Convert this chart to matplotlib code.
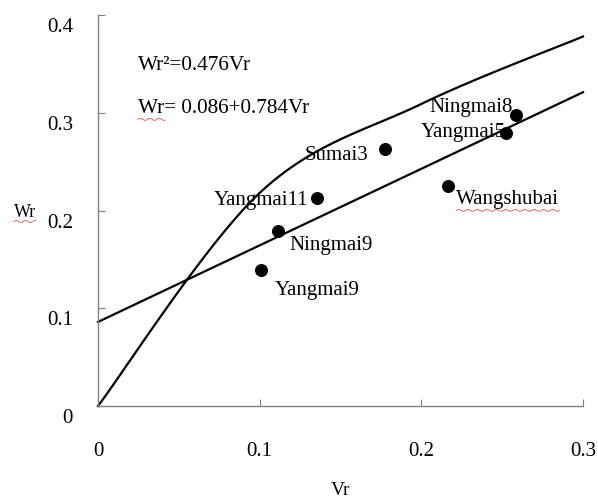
import numpy as np
import matplotlib
matplotlib.use('Agg')
import matplotlib.pyplot as plt
import matplotlib.transforms as mtransforms
from matplotlib.lines import Line2D

plt.rcParams['font.family'] = ['Liberation Serif', 'DejaVu Serif']

# varieties (Vr, Wr)
names = ['Yangmai9', 'Ningmai9', 'Yangmai11', 'Sumai3', 'Wangshubai', 'Yangmai5', 'Ningmai8']
vr = [0.1007, 0.1111, 0.1352, 0.1775, 0.2167, 0.2524, 0.2586]
wr = [0.1396, 0.179, 0.2123, 0.2626, 0.2252, 0.2788, 0.2978]

# limiting parabola Wr^2 = 0.476Vr, drawn as smoothed line through these points
curve_v = [0.0, 0.1, 0.2, 0.3]
curve_w = [0.0, 0.218, 0.309, 0.378]

# regression line Wr = 0.086 + 0.784Vr
line_v = [0.0, 0.3]
line_w = [0.086, 0.321]

# label offsets in pixels (dx, dy, ha)
label_pos = {
    'Yangmai9': (14, -21, 'left'),
    'Ningmai9': (12, -14, 'left'),
    'Yangmai11': (-8, -2, 'right'),
    'Sumai3': (-17, -6, 'right'),
    'Wangshubai': (8, -14, 'left'),
    'Yangmai5': (0, 1, 'right'),
    'Ningmai8': (-3, 7, 'right'),
}


def smooth(xs, ys, n=40):
    # excel-like smoothed line (bezier through the points)
    pts = np.column_stack([xs, ys])
    ext = np.vstack([pts[0], pts, pts[-1]])
    out = []
    for i in range(1, len(ext) - 2):
        p0, p1, p2, p3 = ext[i - 1], ext[i], ext[i + 1], ext[i + 2]
        c1 = p1 + (p2 - p0) / 6.0
        c2 = p2 - (p3 - p1) / 6.0
        t = np.linspace(0, 1, n)[:, None]
        seg = ((1 - t) ** 3) * p1 + 3 * ((1 - t) ** 2) * t * c1 + 3 * (1 - t) * t ** 2 * c2 + t ** 3 * p2
        out.append(seg)
    out = np.vstack(out)
    return out[:, 0], out[:, 1]


def wavy_underline(fig, x0, x1, y, width=0.6):
    xs = np.linspace(x0, x1, 60)
    ys = y + 1.0 * np.sin((xs - x0) / 1.5)
    fig.lines.append(Line2D(xs, ys, transform=None, color='#e05050', lw=width, figure=fig))


fig = plt.figure(figsize=(5.98, 5.01), dpi=100)
ax = fig.add_axes([98 / 598, 95 / 501, 485 / 598, 391 / 501])

cx, cy = smooth(curve_v, curve_w)
ax.plot(cx, cy, color='black', lw=1.6, clip_on=False)
ax.plot(line_v, line_w, color='black', lw=1.6, clip_on=False)
ax.scatter(vr, wr, s=70, color='black', zorder=3, clip_on=False)

for n, x, y in zip(names, vr, wr):
    dx, dy, ha = label_pos[n]
    ax.annotate(n, (x, y), xytext=(dx, dy), textcoords='offset pixels',
                ha=ha, va='center', fontsize=15)

t1 = ax.text(0.0248, 0.348, 'Wr²=0.476Vr', fontsize=15.3, va='center')
t2 = ax.text(0.0248, 0.304, 'Wr= 0.086+0.784Vr', fontsize=15.3, va='center')

ax.set_xlim(0, 0.3)
ax.set_ylim(0, 0.4)
ax.set_xticks([0, 0.1, 0.2, 0.3])
ax.set_xticklabels(['0', '0.1', '0.2', '0.3'])
ax.set_yticks([0, 0.1, 0.2, 0.3, 0.4])
ax.set_yticklabels(['0', '0.1', '0.2', '0.3', '0.4'])
ax.tick_params(direction='in', length=5, color='#808080', labelsize=15)
ax.tick_params(axis='x', pad=26)
ax.tick_params(axis='y', pad=18)
for lab in ax.get_yticklabels():
    lab.set_transform(lab.get_transform() + mtransforms.ScaledTranslation(0, -0.1, fig.dpi_scale_trans))

for s in ['top', 'right']:
    ax.spines[s].set_visible(False)
for s in ['left', 'bottom']:
    ax.spines[s].set_color('#808080')
    ax.spines[s].set_linewidth(1.0)

yl = fig.text(25 / 598, 1 - 212 / 501, 'Wr', fontsize=13, ha='center', va='center')
xl = fig.text(341 / 598, 2 / 501, 'Vr', fontsize=14, ha='center', va='bottom')

fig.canvas.draw()
r = fig.canvas.get_renderer()
bb = yl.get_window_extent(r)
wavy_underline(fig, bb.x0, bb.x1, bb.y0 - 1)
for t in ax.texts:
    if t.get_text() == 'Wangshubai':
        bb = t.get_window_extent(r)
        wavy_underline(fig, bb.x0, bb.x1, bb.y0 - 1)
# underline only "Wr" of the regression equation
bb = t2.get_window_extent(r)
wavy_underline(fig, bb.x0, bb.x0 + 27, bb.y0 - 1)

fig.savefig('out.png', dpi=100)
